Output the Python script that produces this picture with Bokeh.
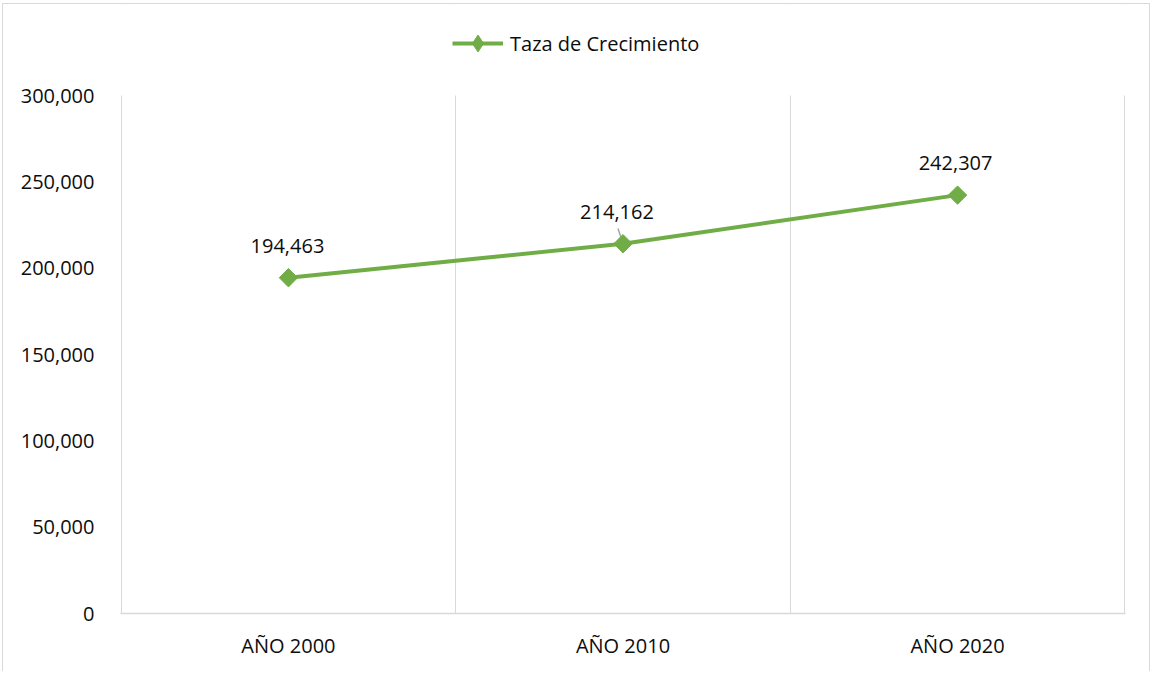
import math
from bokeh.plotting import figure
from bokeh.models import (FactorRange, Range1d, FixedTicker, NumeralTickFormatter,
                          Legend, LegendItem, ColumnDataSource, BoxAnnotation)
from bokeh.core.properties import value
from bokeh.embed import file_html
from bokeh.resources import INLINE

# ---- data ----
categories = ["AÑO 2000", "AÑO 2010", "AÑO 2020"]
poblacion = [194463, 214162, 242307]
labels = ["194,463", "214,162", "242,307"]
series_name = "Taza de Crecimiento"
y_ticks = [0, 50000, 100000, 150000, 200000, 250000, 300000]

# ---- style ----
GREEN = "#70AD47"
GRID = "#D9D9D9"
TXT = "#0d0d0d"
FONT = "Open Sans"
label_nudge_x = [-1, -6, -2]

# layout (pixels): frame spans from the top of the figure to the x axis;
# the value-axis maximum sits 91 px below the frame top
FRAME_H = 609
AXIS_H = 518
y_end = y_ticks[-1] * FRAME_H / AXIS_H

src = ColumnDataSource(dict(x=categories, y=poblacion, lab=labels, dx=label_nudge_x))

p = figure(width=1148, height=668, output_backend="svg", toolbar_location=None,
           x_range=FactorRange(factors=categories, range_padding=0.002,
                               range_padding_units="absolute"),
           y_range=Range1d(0, y_end),
           min_border_left=117, min_border_right=26, min_border_top=0, min_border_bottom=59)
p.styles = {"margin-left": "2px", "margin-top": "3px",
            "border-left": "1px solid #D9D9D9", "border-top": "1px solid #D9D9D9",
            "border-right": "1px solid #D9D9D9"}
p.outline_line_color = None
p.background_fill_color = "white"
p.border_fill_color = "white"

# grids
p.ygrid.grid_line_color = None
p.xgrid.ticker = FixedTicker(ticks=[0, 1, 2, 3])
p.xgrid.grid_line_color = GRID
p.xgrid.grid_line_width = 1

# mask the grid above the value-axis maximum
p.add_layout(BoxAnnotation(bottom=y_ticks[-1], fill_color="white", fill_alpha=1,
                           line_color=None, level="glyph"))

# axes
p.yaxis.ticker = FixedTicker(ticks=y_ticks)
p.yaxis.formatter = NumeralTickFormatter(format="0,0")
p.yaxis.axis_line_color = None
p.yaxis.major_tick_line_color = None
p.yaxis.minor_tick_line_color = None
p.yaxis.major_label_standoff = 20
p.yaxis.major_label_text_font = FONT
p.yaxis.major_label_text_font_size = "20px"
p.yaxis.major_label_text_color = TXT

p.xaxis.axis_line_color = GRID
p.xaxis.axis_line_width = 1.5
p.xaxis.major_tick_line_color = None
p.xaxis.minor_tick_line_color = None
p.xaxis.major_label_standoff = 12
p.xaxis.major_label_text_font = FONT
p.xaxis.major_label_text_font_size = "20px"
p.xaxis.major_label_text_color = TXT

# leader line for the middle label
p.ray(x=[categories[1]], y=[poblacion[1]], length=16, length_units="screen",
      angle=math.radians(108), line_color="#A6A6A6", line_width=1.5)

line_r = p.line("x", "y", source=src, line_color=GREEN, line_width=4)
# diamond used for the legend key (hidden beneath the rotated-square markers)
key_r = p.scatter("x", "y", source=src, marker="diamond", size=10,
                  fill_color=GREEN, line_color=GREEN)
mark_r = p.scatter("x", "y", source=src, marker="square", size=13, angle=math.pi / 4,
                   fill_color=GREEN, line_color=GREEN, line_width=1)

p.text("x", "y", text="lab", source=src, x_offset="dx", y_offset=-32,
       text_align="center", text_baseline="middle",
       text_font=value(FONT), text_font_size="20px", text_color=TXT)

legend = Legend(items=[LegendItem(label=series_name, renderers=[line_r, key_r])],
                location=(332, 549), orientation="horizontal",
                glyph_width=51, glyph_height=42, label_standoff=7,
                padding=0, margin=0, border_line_color=None,
                background_fill_alpha=0,
                label_text_font=FONT, label_text_font_size="20px",
                label_text_color=TXT)
p.add_layout(legend, "center")

open("out.html", "w").write(file_html(p, INLINE))
